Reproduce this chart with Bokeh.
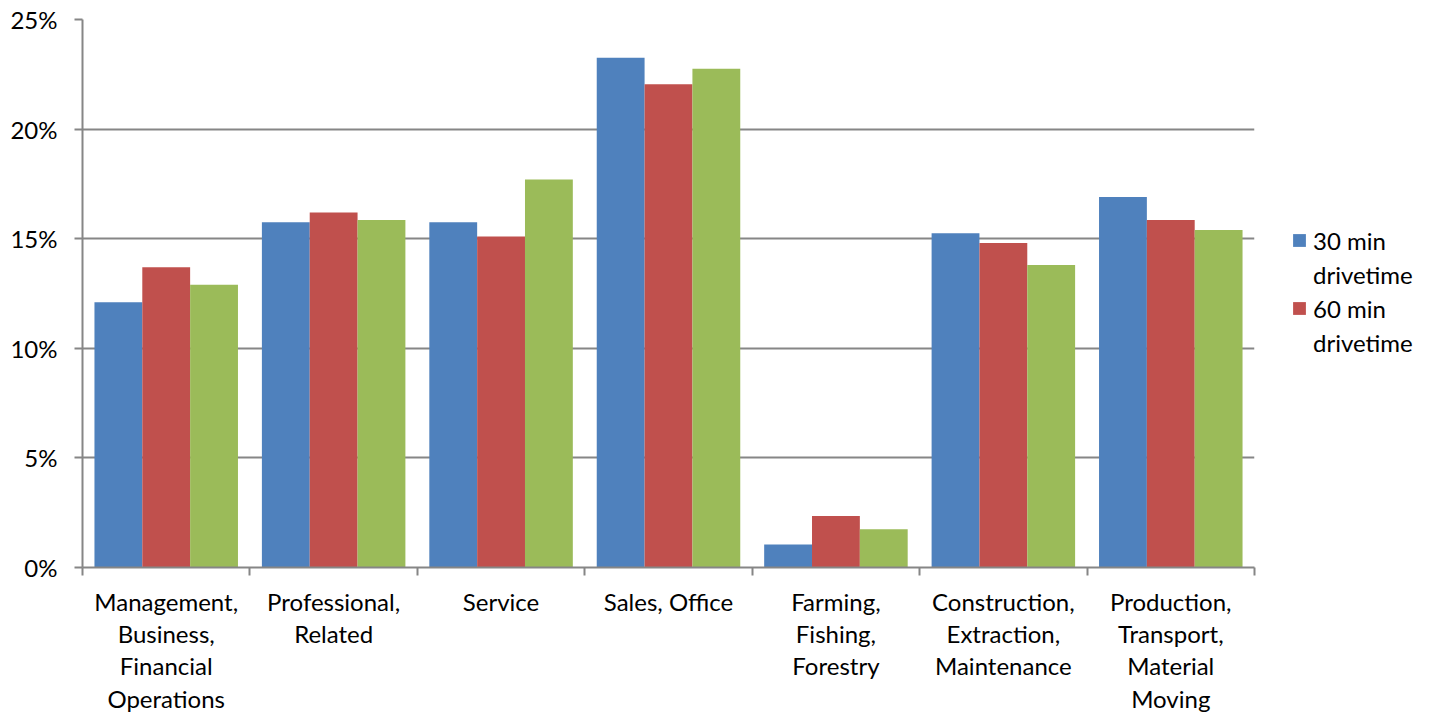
from bokeh.plotting import figure
from bokeh.models import FixedTicker, Legend, LegendItem, Range1d
from bokeh.embed import file_html
from bokeh.resources import INLINE

categories = ["Management,\nBusiness,\nFinancial\nOperations", "Professional,\nRelated", "Service",
              "Sales, Office", "Farming,\nFishing,\nForestry", "Construction,\nExtraction,\nMaintenance",
              "Production,\nTransport,\nMaterial\nMoving"]
s30 = [12.1, 15.75, 15.75, 23.25, 1.05, 15.25, 16.9]
s60 = [13.7, 16.2, 15.1, 22.05, 2.35, 14.8, 15.85]
s3 = [12.9, 15.85, 17.7, 22.75, 1.75, 13.8, 15.4]
legend_lines = [["30 min", "drivetime"], ["60 min", "drivetime"]]
colors = ["#4F81BD", "#C0504D", "#9BBB59"]
y_ticks = [0, 5, 10, 15, 20, 25]

FONT = "Lato"
FS = "24px"
GRID = "#868686"

p = figure(frame_width=1172, frame_height=548, output_backend="svg", toolbar_location=None,
           x_range=Range1d(0, len(categories)), y_range=Range1d(0, 25),
           min_border_left=82, min_border_top=19, min_border_right=176, min_border_bottom=10)
p.outline_line_color = None

bw = 1 / 3.5
xs = list(range(len(categories)))
renderers = []
for k, (vals, col) in enumerate(zip([s30, s60, s3], colors)):
    centers = [i + 0.5 + (k - 1) * bw for i in xs]
    r = p.vbar(x=centers, top=vals, width=bw, bottom=0, fill_color=col, line_color=None)
    renderers.append(r)
blank = p.vbar(x=[], top=[], width=0.1, fill_alpha=0, line_alpha=0)

# y axis
p.yaxis.ticker = FixedTicker(ticks=y_ticks, minor_ticks=[])
p.yaxis.major_label_overrides = {t: f"{t}%" for t in y_ticks}
p.yaxis.axis_line_color = GRID
p.yaxis.axis_line_width = 2
p.yaxis.major_tick_line_color = GRID
p.yaxis.major_tick_line_width = 2
p.yaxis.major_tick_out = 8
p.yaxis.major_tick_in = 0
p.yaxis.minor_tick_line_color = None
p.yaxis.major_label_standoff = 17
p.yaxis.major_label_text_font = FONT
p.yaxis.major_label_text_font_size = FS
p.yaxis.major_label_text_color = "#000000"

# x axis
label_pos = [i + 0.5 for i in xs]
p.xaxis.ticker = FixedTicker(ticks=label_pos, minor_ticks=list(range(len(categories) + 1)))
p.xaxis.major_label_overrides = {i + 0.5: c for i, c in enumerate(categories)}
p.xaxis.axis_line_color = GRID
p.xaxis.axis_line_width = 2
p.xaxis.major_tick_line_color = None
p.xaxis.minor_tick_line_color = GRID
p.xaxis.minor_tick_line_width = 2
p.xaxis.minor_tick_out = 8
p.xaxis.minor_tick_in = 0
p.xaxis.major_tick_out = 8
p.xaxis.major_label_standoff = 11
p.xaxis.major_label_text_font = FONT
p.xaxis.major_label_text_font_size = FS
p.xaxis.major_label_text_color = "#000000"
p.xaxis.major_label_text_line_height = 1.12

p.xgrid.grid_line_color = None
p.ygrid.grid_line_color = GRID
p.ygrid.grid_line_width = 2
p.ygrid.ticker = FixedTicker(ticks=y_ticks[1:])

items = []
for lines, r in zip(legend_lines, renderers[:2]):
    items.append(LegendItem(label=lines[0], renderers=[r]))
    items.append(LegendItem(label=lines[1], renderers=[blank]))
legend = Legend(items=items, location=(37, 208), border_line_color=None, background_fill_alpha=0,
                label_text_font=FONT, label_text_font_size=FS, label_text_color="#000000",
                glyph_width=16, glyph_height=16, label_standoff=6, spacing=0, label_height=34,
                margin=0, padding=0)
p.add_layout(legend, "right")

open("out.html", "w").write(file_html(p, INLINE))
